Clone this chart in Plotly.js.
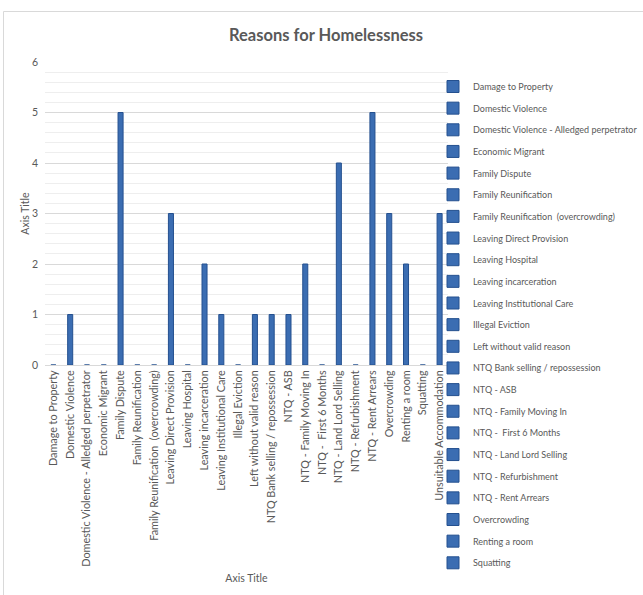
<!DOCTYPE html>
<html>
<head>
<meta charset="utf-8">
<script src="https://cdn.plot.ly/plotly-3.0.1.min.js"></script>
<style>html,body{margin:0;padding:0;background:#fff;}#chart{width:643px;height:595px;}</style>
</head>
<body>
<div id="chart"></div>
<script>
const categories = [
  "Damage to Property",
  "Domestic Violence",
  "Domestic Violence - Alledged perpetrator",
  "Economic Migrant",
  "Family Dispute",
  "Family Reunification",
  "Family Reunification  (overcrowding)",
  "Leaving Direct Provision",
  "Leaving Hospital",
  "Leaving incarceration",
  "Leaving Institutional Care",
  "Illegal Eviction",
  "Left without valid reason",
  "NTQ Bank selling / repossession",
  "NTQ - ASB",
  "NTQ - Family Moving In",
  "NTQ -  First 6 Months",
  "NTQ - Land Lord Selling",
  "NTQ - Refurbishment",
  "NTQ - Rent Arrears",
  "Overcrowding",
  "Renting a room",
  "Squatting",
  "Unsuitable Accommodation"
];
const values = [0, 1, 0, 0, 5, 0, 0, 3, 0, 2, 1, 0, 1, 1, 1, 2, 0, 4, 0, 5, 3, 2, 0, 3];
const yTickValues = [0, 1, 2, 3, 4, 5, 6];

// plot area in pixels
const L = 45, R = 448, T = 62, B = 365;
const W = 643, H = 595;
const px2x = p => (p - L) / (R - L);
const px2y = p => (B - p) / (B - T);
const FONT = 'Lato, Open Sans, sans-serif';

const traces = categories.map((c, i) => ({
  type: 'bar',
  x: [c],
  y: [values[i]],
  name: c,
  legendgroup: 'g' + i,
  showlegend: i < categories.length - 1,
  width: 0.3,
  marker: {color: '#3b6db2', line: {color: '#24508f', width: 1}},
  hoverinfo: 'x+y'
}));

const layout = {
  width: W, height: H,
  margin: {l: L, r: W - R, t: T, b: H - B, pad: 0, autoexpand: false},
  paper_bgcolor: '#ffffff',
  plot_bgcolor: '#ffffff',
  barmode: 'overlay',
  font: {family: FONT, color: '#595959', size: 11},
  title: {
    text: '<b>Reasons for Homelessness</b>',
    font: {family: FONT, size: 16.5, color: '#595959'},
    xref: 'container', yref: 'container',
    x: 326 / W, y: 1 - 35 / H, xanchor: 'center', yanchor: 'middle'
  },
  xaxis: {
    type: 'category',
    categoryorder: 'array',
    categoryarray: categories,
    tickangle: -90,
    tickfont: {size: 10.8, color: '#595959'},
    showgrid: false,
    showline: true,
    linecolor: '#d9d9d9',
    linewidth: 1,
    ticks: '',
    zeroline: false,
    automargin: false,
    fixedrange: true,
    title: {text: 'Axis Title', font: {size: 10.5, color: '#595959'}, standoff: 8}
  },
  yaxis: {
    range: [0, 6],
    tickvals: yTickValues,
    ticktext: yTickValues.map(String),
    tickfont: {size: 10.5, color: '#595959'},
    ticklabelstandoff: 6,
    showgrid: true,
    gridcolor: '#d9d9d9',
    gridwidth: 1,
    zeroline: false,
    showline: false,
    ticks: '',
    ticklen: 0,
    automargin: false,
    minor: {dtick: 0.2, showgrid: true, gridcolor: '#eeeeee', gridwidth: 1},
    fixedrange: true,
    title: {text: 'Axis Title', font: {size: 10.5, color: '#595959'}, standoff: 0}
  },
  legend: {
    x: px2x(433), y: px2y(72), xanchor: 'left', yanchor: 'top',
    xref: 'paper', yref: 'paper',
    font: {size: 9, color: '#595959'},
    tracegroupgap: 2.65,
    itemwidth: 30,
    maxheight: 1000,
    bgcolor: 'rgba(0,0,0,0)'
  },
  shapes: [
    {type: 'line', xref: 'paper', yref: 'paper', x0: px2x(3.5), x1: px2x(700), y0: px2y(11.5), y1: px2y(11.5), line: {color: '#d9d9d9', width: 1}},
    {type: 'line', xref: 'paper', yref: 'paper', x0: px2x(3.5), x1: px2x(3.5), y0: px2y(11.5), y1: px2y(700), line: {color: '#d9d9d9', width: 1}}
  ]
};

Plotly.newPlot('chart', traces, layout, {displayModeBar: false, staticPlot: true});
</script>
</body>
</html>
